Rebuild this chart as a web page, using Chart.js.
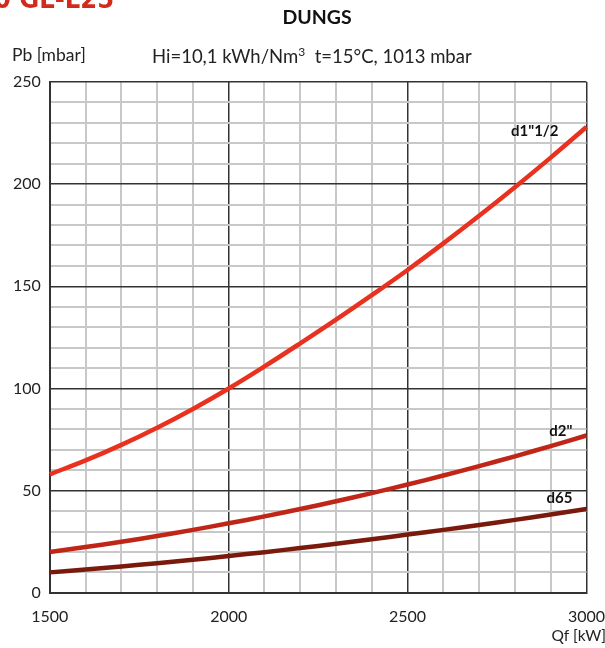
<!DOCTYPE html>
<html>
<head>
<meta charset="utf-8">
<script src="https://cdn.jsdelivr.net/npm/chart.js@4/dist/chart.umd.min.js"></script>
<style>
  html, body { margin: 0; padding: 0; background: #fff; overflow: hidden; }
  #wrap { position: relative; width: 605px; height: 648px; overflow: hidden; }
  canvas { position: absolute; left: 0; top: 0; }
  .txt { position: absolute; font-family: Lato, "Noto Sans", sans-serif; color: #222; white-space: nowrap; }
</style>
</head>
<body>
<div id="wrap">
  <canvas id="chart" width="619" height="648"></canvas>
  <div class="txt" style="left:-6px; top:-17px; font-family:'Liberation Sans Narrow','DejaVu Sans Condensed',sans-serif; font-weight:bold; font-size:27px; color:#d42a1c;">0 GL-L25</div>
  <div class="txt" style="left:0; width:634px; text-align:center; top:5px; font-weight:bold; font-size:19.5px; color:#111;">DUNGS</div>
  <div class="txt" style="left:12px; top:44px; font-size:17.5px;">Pb [mbar]</div>
  <div class="txt" style="left:152px; top:44px; font-size:18.5px;">Hi=10,1 kWh/Nm<sup style="font-size:12px;">3</sup>&nbsp; t=15°C, 1013 mbar</div>
  <div class="txt" style="right:-1px; top:626px; font-size:15.5px;">Qf [kW]</div>
</div>
<script>
// Qf [kW]
const flows = [1500, 1600, 1700, 1800, 1900, 2000, 2100, 2200, 2300, 2400, 2500, 2600, 2700, 2800, 2900, 3000];

// Pb [mbar] per valve size
const d1_1_2 = [58, 64.8, 72.4, 80.8, 90, 100, 110.8, 122.1, 133.7, 145.7, 158, 171, 184.5, 198.5, 213, 228];
const d2 = [20, 22.4, 25, 27.8, 30.8, 34, 37.4, 41, 44.8, 48.8, 53, 57.4, 62, 66.8, 71.8, 77];
const d65 = [10, 11.4, 12.9, 14.5, 16.2, 18, 19.9, 21.9, 24, 26.2, 28.5, 30.8, 33.2, 35.7, 38.3, 41];

const seriesNames = ['d1"1/2', 'd2"', 'd65'];
const seriesColors = ['#e8321f', '#bf2617', '#7a1a0c'];
// label anchors (right edge) in data units
const labelX = [2922, 2961, 2961];
const labelY = [226, 79, 46.5];

const xTicks = [1500, 2000, 2500, 3000];
const yTicks = [0, 50, 100, 150, 200, 250];

function toPoints(arr) {
    return flows.map((q, i) => ({ x: q, y: arr[i] }));
}

// draws the curve names next to the lines
const curveLabels = {
    id: 'curveLabels',
    afterDatasetsDraw(chart) {
        const ctx = chart.ctx;
        const xs = chart.scales.x;
        const ys = chart.scales.y;
        ctx.save();
        ctx.font = 'bold 15px Lato, "Noto Sans", sans-serif';
        ctx.fillStyle = '#111';
        ctx.textAlign = 'right';
        ctx.textBaseline = 'middle';
        seriesNames.forEach((name, i) => {
            ctx.fillText(name, xs.getPixelForValue(labelX[i]), ys.getPixelForValue(labelY[i]));
        });
        ctx.restore();
    }
};

new Chart(document.getElementById('chart'), {
    type: 'line',
    data: {
        datasets: [
            { label: seriesNames[0], data: toPoints(d1_1_2), borderColor: seriesColors[0] },
            { label: seriesNames[1], data: toPoints(d2), borderColor: seriesColors[1] },
            { label: seriesNames[2], data: toPoints(d65), borderColor: seriesColors[2] }
        ]
    },
    options: {
        responsive: false,
        animation: false,
        clip: false,
        layout: { padding: { left: 4, top: 82, right: 0, bottom: 8 } },
        elements: {
            line: { borderWidth: 4.5, tension: 0.4 },
            point: { radius: 0 }
        },
        plugins: {
            legend: { display: false },
            tooltip: { enabled: false }
        },
        scales: {
            x: {
                type: 'linear',
                min: 1500,
                max: 3000,
                border: { color: '#333', width: 2 },
                grid: {
                    color: c => (c.tick.value % 500 === 0 ? '#333' : '#c8c8c8'),
                    lineWidth: c => (c.tick.value % 500 === 0 ? 1.5 : 2),
                    drawTicks: false
                },
                ticks: {
                    stepSize: 100,
                    autoSkip: false,
                    maxRotation: 0,
                    padding: 14,
                    color: '#222',
                    font: { family: 'Lato, "Noto Sans", sans-serif', size: 16 },
                    callback: v => (xTicks.includes(v) ? String(v) : '')
                }
            },
            y: {
                min: 0,
                max: 250,
                border: { color: '#333', width: 2 },
                grid: {
                    color: c => (c.tick.value % 50 === 0 ? '#333' : '#c8c8c8'),
                    lineWidth: c => (c.tick.value % 50 === 0 ? 1.5 : 2),
                    drawTicks: false
                },
                ticks: {
                    stepSize: 10,
                    autoSkip: false,
                    padding: 9,
                    color: '#222',
                    font: { family: 'Lato, "Noto Sans", sans-serif', size: 16 },
                    callback: v => (yTicks.includes(v) ? String(v) : '')
                }
            }
        }
    },
    plugins: [curveLabels]
});
</script>
</body>
</html>
